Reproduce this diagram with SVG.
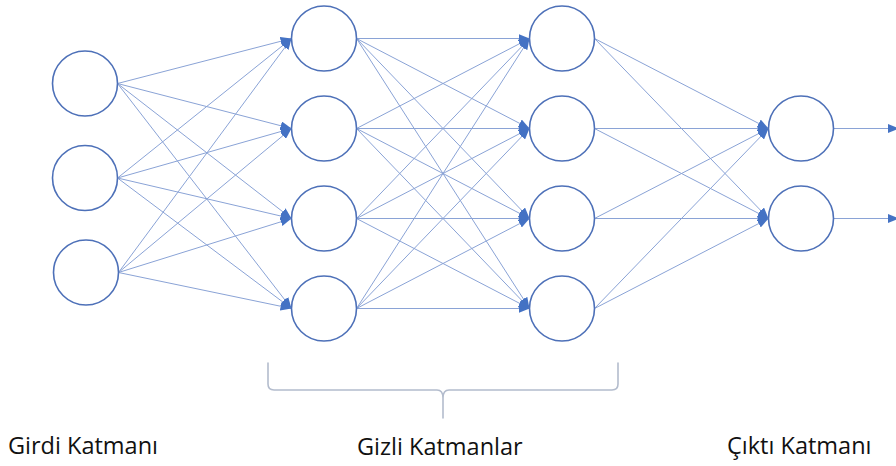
<svg xmlns="http://www.w3.org/2000/svg" width="896" height="466" viewBox="0 0 896 466">
  <style>
    .node { fill: #ffffff; stroke: #4d70b8; stroke-width: 1.6; }
    .edge { stroke: #8aa3d6; stroke-width: 1; fill: none; marker-end: url(#arrow); }
    .brace { fill: none; stroke: #b3bccd; stroke-width: 1.6; stroke-linecap: round; stroke-linejoin: round; }
    .label { font-family: "Open Sans", "Noto Sans", "DejaVu Sans", sans-serif; font-size: 23.5px; fill: #111111; }
  </style>
  <defs>
    <marker id="arrow" viewBox="0 0 10 8" refX="10" refY="4" markerWidth="11" markerHeight="9" markerUnits="userSpaceOnUse" orient="auto">
      <path d="M0,0 L10,4 L0,8 z" fill="#4472c4"/>
    </marker>
  </defs>
  <rect width="896" height="466" fill="#ffffff"/>

  <!-- connectors -->
  <g id="connectors">
    <!-- input layer to first hidden layer -->
    <line class="edge" x1="117.5" y1="83.5" x2="291.5" y2="38.5"/>
    <line class="edge" x1="117.5" y1="83.5" x2="291.5" y2="128.5"/>
    <line class="edge" x1="117.5" y1="83.5" x2="291.5" y2="218.5"/>
    <line class="edge" x1="117.5" y1="83.5" x2="291.5" y2="308.5"/>
    <line class="edge" x1="117.5" y1="178" x2="291.5" y2="38.5"/>
    <line class="edge" x1="117.5" y1="178" x2="291.5" y2="128.5"/>
    <line class="edge" x1="117.5" y1="178" x2="291.5" y2="218.5"/>
    <line class="edge" x1="117.5" y1="178" x2="291.5" y2="308.5"/>
    <line class="edge" x1="118.5" y1="272.5" x2="291.5" y2="38.5"/>
    <line class="edge" x1="118.5" y1="272.5" x2="291.5" y2="128.5"/>
    <line class="edge" x1="118.5" y1="272.5" x2="291.5" y2="218.5"/>
    <line class="edge" x1="118.5" y1="272.5" x2="291.5" y2="308.5"/>
    <!-- first hidden layer to second hidden layer -->
    <line class="edge" x1="356.5" y1="38.5" x2="529.5" y2="38.5"/>
    <line class="edge" x1="356.5" y1="38.5" x2="529.5" y2="128.5"/>
    <line class="edge" x1="356.5" y1="38.5" x2="529.5" y2="218.5"/>
    <line class="edge" x1="356.5" y1="38.5" x2="529.5" y2="308.5"/>
    <line class="edge" x1="356.5" y1="128.5" x2="529.5" y2="38.5"/>
    <line class="edge" x1="356.5" y1="128.5" x2="529.5" y2="128.5"/>
    <line class="edge" x1="356.5" y1="128.5" x2="529.5" y2="218.5"/>
    <line class="edge" x1="356.5" y1="128.5" x2="529.5" y2="308.5"/>
    <line class="edge" x1="356.5" y1="218.5" x2="529.5" y2="38.5"/>
    <line class="edge" x1="356.5" y1="218.5" x2="529.5" y2="128.5"/>
    <line class="edge" x1="356.5" y1="218.5" x2="529.5" y2="218.5"/>
    <line class="edge" x1="356.5" y1="218.5" x2="529.5" y2="308.5"/>
    <line class="edge" x1="356.5" y1="308.5" x2="529.5" y2="38.5"/>
    <line class="edge" x1="356.5" y1="308.5" x2="529.5" y2="128.5"/>
    <line class="edge" x1="356.5" y1="308.5" x2="529.5" y2="218.5"/>
    <line class="edge" x1="356.5" y1="308.5" x2="529.5" y2="308.5"/>
    <!-- second hidden layer to output layer -->
    <line class="edge" x1="594.5" y1="38.5" x2="768.5" y2="128.5"/>
    <line class="edge" x1="594.5" y1="38.5" x2="768.5" y2="218.5"/>
    <line class="edge" x1="594.5" y1="128.5" x2="768.5" y2="128.5"/>
    <line class="edge" x1="594.5" y1="128.5" x2="768.5" y2="218.5"/>
    <line class="edge" x1="594.5" y1="218.5" x2="768.5" y2="128.5"/>
    <line class="edge" x1="594.5" y1="218.5" x2="768.5" y2="218.5"/>
    <line class="edge" x1="594.5" y1="308.5" x2="768.5" y2="128.5"/>
    <line class="edge" x1="594.5" y1="308.5" x2="768.5" y2="218.5"/>
    <!-- outputs -->
    <line class="edge" x1="833.5" y1="128.5" x2="899" y2="128.5"/>
    <line class="edge" x1="833.5" y1="218.5" x2="899" y2="218.5"/>
  </g>

  <!-- input layer -->
  <g id="input-1"><circle class="node" cx="85" cy="83.5" r="32.5"/></g>
  <g id="input-2"><circle class="node" cx="85" cy="178" r="32.5"/></g>
  <g id="input-3"><circle class="node" cx="86" cy="272.5" r="32.5"/></g>

  <!-- first hidden layer -->
  <g id="hidden1-1"><circle class="node" cx="324" cy="38.5" r="32.5"/></g>
  <g id="hidden1-2"><circle class="node" cx="324" cy="128.5" r="32.5"/></g>
  <g id="hidden1-3"><circle class="node" cx="324" cy="218.5" r="32.5"/></g>
  <g id="hidden1-4"><circle class="node" cx="324" cy="308.5" r="32.5"/></g>

  <!-- second hidden layer -->
  <g id="hidden2-1"><circle class="node" cx="562" cy="38.5" r="32.5"/></g>
  <g id="hidden2-2"><circle class="node" cx="562" cy="128.5" r="32.5"/></g>
  <g id="hidden2-3"><circle class="node" cx="562" cy="218.5" r="32.5"/></g>
  <g id="hidden2-4"><circle class="node" cx="562" cy="308.5" r="32.5"/></g>

  <!-- output layer -->
  <g id="output-1"><circle class="node" cx="801" cy="128.5" r="32.5"/></g>
  <g id="output-2"><circle class="node" cx="801" cy="218.5" r="32.5"/></g>

  <!-- brace spanning the hidden layers -->
  <path class="brace" d="M268,363 L268,384 Q268,390 274,390 L437,390 Q443,390 443,398 L443,418 M443,418 L443,398 Q443,390 449,390 L612,390 Q618,390 618,384 L618,363"/>

  <!-- layer labels -->
  <text class="label" x="8" y="454">Girdi Katmanı</text>
  <text class="label" x="357" y="455">Gizli Katmanlar</text>
  <text class="label" x="727" y="454">Çıktı Katmanı</text>
</svg>
